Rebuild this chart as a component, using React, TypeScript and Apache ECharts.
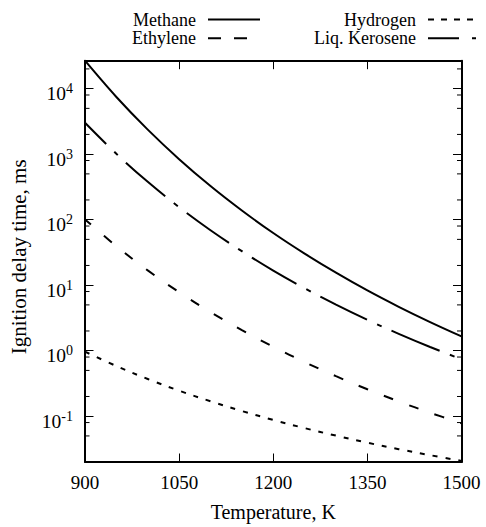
import React, { useEffect, useRef } from 'react';
import * as echarts from 'echarts';

// Temperature samples, K
const temperatures = [900, 950, 1000, 1050, 1100, 1150, 1200, 1250, 1300, 1350, 1400, 1450, 1500];
// Ignition delay time, ms
const methane = [26700, 7460, 2370, 839, 326, 138, 62.5, 30.3, 15.5, 8.3, 4.67, 2.73, 1.65];
const ethylene = [101, 39.4, 16.8, 7.82, 3.89, 2.06, 1.15, 0.67, 0.408, 0.258, 0.168, 0.113, 0.078];
const hydrogen = [0.966, 0.583, 0.37, 0.245, 0.169, 0.12, 0.0877, 0.0658, 0.0505, 0.0394, 0.0314, 0.0254, 0.0208];
const kerosene = [3020, 1012, 378, 155, 69, 33, 16.7, 8.97, 5.05, 2.96, 1.81, 1.14, 0.74];

const seriesNames = ['Methane', 'Ethylene', 'Hydrogen', 'Liq. Kerosene'];
const xMin = 900;
const xMax = 1500;
const xStep = 150;
const yMin = 0.02;
const yMax = 26700;
const minorTickValues = [0.05, 0.08, 0.2, 0.5, 0.8, 2, 5, 8, 20, 50, 80, 200, 500, 800, 2000, 5000, 8000, 20000];

const FONT = "'Liberation Serif', 'Times New Roman', serif";

export default function App() {
  const ref = useRef<HTMLDivElement>(null);

  useEffect(() => {
    if (!ref.current) return;
    const chart = echarts.init(ref.current, null, { renderer: 'svg' });

    const mk = (name: string, vals: number[], type: any, dashOffset = 0) => ({
      name,
      type: 'line',
      data: temperatures.map((t, i) => [t, vals[i]]),
      symbol: 'none',
      smooth: 0.35,
      lineStyle: { color: '#000', width: 2, type, dashOffset, cap: 'butt' },
      itemStyle: { color: 'rgba(0,0,0,0)' },
      z: 3,
    });

    const legendBase = {
      orient: 'vertical',
      align: 'right',
      top: 10.5,
      padding: 0,
      itemGap: 0.7,
      itemWidth: 52,
      itemHeight: 10,
      itemStyle: { opacity: 0 },
      textStyle: { fontFamily: FONT, fontSize: 18, color: '#000', lineHeight: 17, padding: [0, 7, 0, 0] },
      selectedMode: false,
    };

    const yLabelFormatter = (v: number) => {
      const l = Math.log10(v);
      const e = Math.round(l);
      if (Math.abs(l - e) > 1e-6) return '';
      return `{b|10}{s|${e}}`;
    };

    const option: any = {
      animation: false,
      backgroundColor: '#fff',
      grid: { left: 84, right: 24.5, top: 60.7, bottom: 56.3 },
      legend: [
        {
          ...legendBase,
          right: 225,
          data: [
            { name: seriesNames[0] },
            { name: seriesNames[1], lineStyle: { type: [13, 13], dashOffset: 0 } },
          ],
        },
        {
          ...legendBase,
          right: 5,
          data: [
            { name: seriesNames[2], lineStyle: { type: [6, 7], dashOffset: 0 } },
            { name: seriesNames[3], lineStyle: { type: [31, 13, 4, 13], dashOffset: 0 } },
          ],
        },
      ],
      xAxis: [
        {
          type: 'value',
          min: xMin,
          max: xMax,
          interval: xStep,
          position: 'bottom',
          name: 'Temperature, K',
          nameLocation: 'middle',
          nameGap: 40,
          nameTextStyle: { fontFamily: FONT, fontSize: 20, color: '#000' },
          axisLine: { show: true, lineStyle: { color: '#000', width: 2 } },
          axisTick: { show: true, inside: true, length: 8.5, lineStyle: { color: '#000', width: 1 } },
          axisLabel: { fontFamily: FONT, fontSize: 19, color: '#000', margin: 11, formatter: (v: number) => String(v) },
          splitLine: { show: false },
        },
        {
          type: 'value',
          min: xMin,
          max: xMax,
          interval: xStep,
          position: 'top',
          axisLine: { show: true, lineStyle: { color: '#000', width: 2 } },
          axisTick: { show: true, inside: true, length: 8.5, lineStyle: { color: '#000', width: 1 } },
          axisLabel: { show: false },
          splitLine: { show: false },
        },
      ],
      yAxis: [
        {
          type: 'log',
          logBase: 10,
          min: yMin,
          max: yMax,
          position: 'left',
          name: 'Ignition delay time, ms',
          nameLocation: 'middle',
          nameGap: 56,
          nameTextStyle: { fontFamily: FONT, fontSize: 21, color: '#000', padding: [0, 0, 0, 9] },
          axisLine: { show: true, lineStyle: { color: '#000', width: 2 } },
          axisTick: { show: true, inside: true, length: 8.5, lineStyle: { color: '#000', width: 1 } },
          axisLabel: {
            formatter: yLabelFormatter,
            margin: 12,
            color: '#000',
            rich: {
              b: { fontFamily: FONT, fontSize: 19.5, lineHeight: 19, verticalAlign: 'bottom', color: '#000' },
              s: { fontFamily: FONT, fontSize: 14, lineHeight: 30, color: '#000' },
            },
          },
          splitLine: { show: false },
        },
        {
          type: 'log',
          logBase: 10,
          min: yMin,
          max: yMax,
          position: 'right',
          axisLine: { show: true, lineStyle: { color: '#000', width: 2 } },
          axisTick: { show: true, inside: true, length: 8.5, lineStyle: { color: '#000', width: 1 } },
          axisLabel: { show: false },
          splitLine: { show: false },
        },
      ],
      series: [
        mk(seriesNames[0], methane, 'solid'),
        mk(seriesNames[1], ethylene, [10, 17], 2),
        mk(seriesNames[2], hydrogen, [5, 8]),
        mk(seriesNames[3], kerosene, [52, 11, 5, 11], 22),
        {
          type: 'custom',
          name: 'minor ticks',
          silent: true,
          clip: false,
          xAxisIndex: 0,
          yAxisIndex: 0,
          data: minorTickValues.map((v) => [xMin, v]),
          encode: { x: 0, y: 1 },
          renderItem: (_params: any, api: any) => {
            const v = api.value(1);
            const pL = api.coord([xMin, v]);
            const pR = api.coord([xMax, v]);
            const st = { stroke: '#000', lineWidth: 1 };
            return {
              type: 'group',
              children: [
                { type: 'line', shape: { x1: pL[0], y1: pL[1], x2: pL[0] + 4.5, y2: pL[1] }, style: st },
                { type: 'line', shape: { x1: pR[0] - 4.5, y1: pR[1], x2: pR[0], y2: pR[1] }, style: st },
              ],
            };
          },
          z: 4,
        },
      ],
    };

    chart.setOption(option);
    return () => chart.dispose();
  }, []);

  return <div ref={ref} style={{ width: 486, height: 527, position: 'absolute', left: 0, top: 0 }} />;
}
